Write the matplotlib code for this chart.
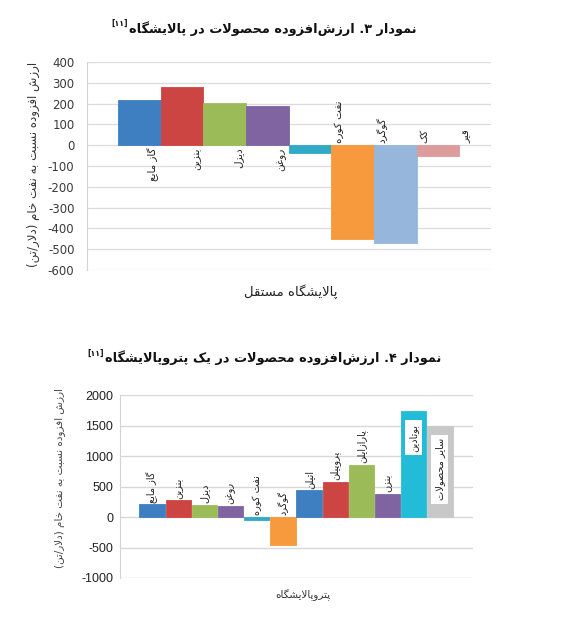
import matplotlib
matplotlib.use("Agg")
import matplotlib.pyplot as plt
from matplotlib import font_manager, ft2font

# --- data -------------------------------------------------------------
cats1 = ["گاز مایع", "بنزین", "دیزل", "روغن", "نفت کوره", "گوگرد", "کک", "قیر"]
vals1 = [215, 282, 202, 189, -38, -452, -468, -54]
colors1 = ["#3d7fc1", "#cd4542", "#9bbb59", "#8064a2", "#31aac8", "#f79a3e", "#97b6dc", "#dc9c9b"]

cats2 = ["گاز مایع", "بنزین", "دیزل", "روغن", "نفت کوره", "گوگرد",
         "اتیلن", "پروپیلن", "پارازایلن", "بنزن", "بوتادین", "سایر محصولات"]
vals2 = [208, 273, 202, 180, -44, -454, 437, 579, 858, 377, 1732, 1492]
colors2 = ["#3d7fc1", "#cd4542", "#9bbb59", "#8064a2", "#31aac8", "#f79a3e",
           "#3d7fc1", "#cd4542", "#9bbb59", "#8064a2", "#22bcd9", "#c8c8c8"]

title1 = "نمودار ۳. ارزش\u200cافزوده محصولات در پالایشگاه"
title2 = "نمودار ۴. ارزش\u200cافزوده محصولات در یک پتروپالایشگاه"
ref = "[۱۱]"
ylab = "ارزش افزوده نسبت به نفت خام (دلار/تن)"
xlab1 = "پالایشگاه مستقل"
xlab2 = "پتروپالایشگاه"

# --- minimal arabic/persian shaping (matplotlib has no shaping) --------
FORMS = {
    'ا': (0xFE8D, 0xFE8E), 'آ': (0xFE81, 0xFE82),
    'د': (0xFEA9, 0xFEAA), 'ذ': (0xFEAB, 0xFEAC), 'ر': (0xFEAD, 0xFEAE),
    'ز': (0xFEAF, 0xFEB0), 'ژ': (0xFB8A, 0xFB8B), 'و': (0xFEED, 0xFEEE),
}
for ch, start in [('ب', 0xFE8F), ('پ', 0xFB56), ('ت', 0xFE95), ('ث', 0xFE99),
                  ('ج', 0xFE9D), ('چ', 0xFB7A), ('ح', 0xFEA1), ('خ', 0xFEA5),
                  ('س', 0xFEB1), ('ش', 0xFEB5), ('ص', 0xFEB9), ('ض', 0xFEBD),
                  ('ط', 0xFEC1), ('ظ', 0xFEC5), ('ع', 0xFEC9), ('غ', 0xFECD),
                  ('ف', 0xFED1), ('ق', 0xFED5), ('ک', 0xFB8E), ('گ', 0xFB92),
                  ('ل', 0xFEDD), ('م', 0xFEE1), ('ن', 0xFEE5), ('ه', 0xFEE9),
                  ('ی', 0xFBFC)]:
    FORMS[ch] = (start, start + 1, start + 2, start + 3)

# fall back to arabic kaf / yeh forms if the font lacks the persian ones
_cmap = ft2font.FT2Font(font_manager.findfont("DejaVu Sans")).get_charmap()
if 0xFB90 not in _cmap:
    FORMS['ک'] = (0xFB8E, 0xFB8F, 0xFEDB, 0xFEDC)
if 0xFBFE not in _cmap:
    FORMS['ی'] = (0xFBFC, 0xFBFD, 0xFEF3, 0xFEF4)


def dual(c):
    return c in FORMS and len(FORMS[c]) == 4


def fa(text):
    out = []
    i = 0
    n = len(text)
    while i < n:
        c = text[i]
        prev_j = i > 0 and dual(text[i - 1])
        if c == 'ل' and i + 1 < n and text[i + 1] == 'ا':
            out.append(chr(0xFEFC if prev_j else 0xFEFB))
            i += 2
            continue
        if c == '\u200c':
            i += 1
            continue
        if c in FORMS:
            f = FORMS[c]
            next_j = dual(c) and i + 1 < n and text[i + 1] in FORMS
            if prev_j and next_j:
                out.append(chr(f[3]))
            elif prev_j:
                out.append(chr(f[1]))
            elif next_j:
                out.append(chr(f[2]))
            else:
                out.append(chr(f[0]))
        else:
            out.append(c)
        i += 1
    vis = "".join(reversed(out))
    return vis.translate(str.maketrans("()[]", ")(]["))


plt.rcParams['font.family'] = ['DejaVu Sans']
plt.rcParams['axes.unicode_minus'] = False

fig = plt.figure(figsize=(5.7, 6.44), dpi=100)


def title_with_ref(txt, x_center, y):
    t = fig.text(0, y, fa(txt), ha='left', va='center', fontsize=9.3,
                 fontweight='bold', color='#111111')
    r = fig.text(0, y + 0.008, fa(ref), ha='left', va='center',
                 fontsize=5.5, fontweight='bold', color='#111111')
    fig.canvas.draw()
    inv = fig.transFigure.inverted()
    wt = t.get_window_extent().transformed(inv).width
    wr = r.get_window_extent().transformed(inv).width
    left = x_center - (wt + wr) / 2
    r.set_x(left)
    t.set_x(left + wr + 0.002)


# --- chart 1 ------------------------------------------------------------
ax1 = fig.add_axes([0.1526, 0.5807, 0.709, 0.323])
x1 = range(len(cats1))
ax1.bar(x1, vals1, width=1.0, color=colors1, edgecolor=colors1, linewidth=0.6, zorder=3)
ax1.set_ylim(-600, 400)
ax1.set_yticks(range(-600, 401, 100))
ax1.set_xlim(-1.23, 8.25)
ax1.set_xticks([])
ax1.grid(axis='y', color='#dcdcdc', linewidth=0.9, zorder=0)
for s in ['top', 'right', 'bottom']:
    ax1.spines[s].set_visible(False)
ax1.spines['left'].set_color('#d4d4d4')
ax1.tick_params(axis='y', length=0, labelsize=8.5, colors='#3a3a3a', pad=9)
for i, (c, v) in enumerate(zip(cats1, vals1)):
    if v >= 0:
        ax1.text(i + 0.33, -12, fa(c), rotation=90, ha='center', va='top',
                 fontsize=7.5, color='#222222', zorder=4)
    else:
        ax1.text(i + 0.68, 12, fa(c), rotation=90, ha='center', va='bottom',
                 fontsize=7.5, color='#222222', zorder=4)
fig.text(0.058, 0.745, fa(ylab), rotation=90, ha='center', va='center',
         fontsize=8.5, color='#333333')
fig.text(0.51, 0.547, fa(xlab1), ha='center', va='center', fontsize=9.5, color='#222222')
title_with_ref(title1, 0.463, 0.955)

# --- chart 2 ------------------------------------------------------------
ax2 = fig.add_axes([0.2105, 0.1025, 0.619, 0.284])
x2 = range(len(cats2))
ax2.bar(x2, vals2, width=0.97, color=colors2, edgecolor=colors2, linewidth=0.6, zorder=3)
ax2.set_ylim(-1000, 2000)
ax2.set_yticks(range(-1000, 2001, 500))
ax2.set_xlim(-1.23, 12.26)
ax2.set_xticks([])
ax2.grid(axis='y', color='#d8d8d8', linewidth=1.0, zorder=0)
for s in ['top', 'right', 'bottom']:
    ax2.spines[s].set_visible(False)
ax2.spines['left'].set_color('#d4d4d4')
ax2.tick_params(axis='y', length=0, labelsize=9, colors='#222222', pad=5)
for lbl in ax2.get_yticklabels():
    lbl.set_family('Liberation Sans')
for i, (c, v) in enumerate(zip(cats2, vals2)):
    if v > 1400:
        ax2.text(i, v - 200, fa(c), rotation=90, ha='center', va='top',
                 fontsize=7, color='#222222', zorder=4,
                 bbox=dict(boxstyle='square,pad=0.35', fc='white', ec='none'))
    else:
        ax2.text(i, max(v, 0) + 30, fa(c), rotation=90, ha='center', va='bottom',
                 fontsize=7, color='#222222', zorder=4)
fig.text(0.105, 0.258, fa(ylab), rotation=90, ha='center', va='center',
         fontsize=7.5, color='#444444')
fig.text(0.532, 0.076, fa(xlab2), ha='center', va='center', fontsize=7.5, color='#333333')
title_with_ref(title2, 0.463, 0.444)

fig.savefig("out.png", dpi=100, facecolor='white')
